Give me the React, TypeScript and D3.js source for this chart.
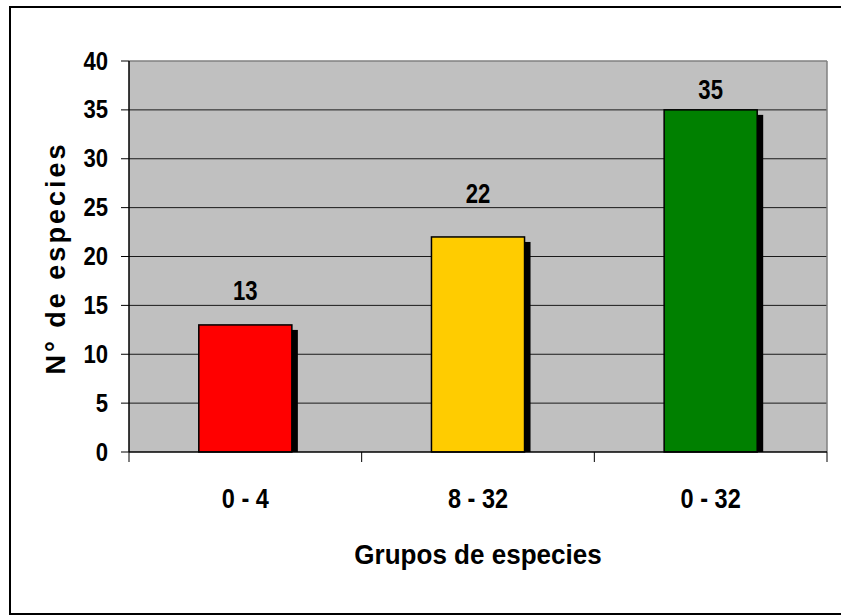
import React from "react";
import * as d3 from "d3";

// Species counts per size group
const categories = ["0 - 4", "8 - 32", "0 - 32"];
const speciesCount = [13, 22, 35];
const barColors = ["#FF0000", "#FFCC00", "#008000"];
const yTicks = [0, 5, 10, 15, 20, 25, 30, 35, 40];

const W = 841;
const H = 615;
const plot = { left: 129, right: 827, top: 61, bottom: 452 };

// distance from bar top to the baseline of each value label
const valueLabelGap = [25, 34, 11];

const ARIAL = "'Liberation Sans', Arial, Helvetica, sans-serif";

// bold text squeezed horizontally, like a narrow typeface
function NarrowText(props: {
  x: number;
  y: number;
  size: number;
  squeeze: number;
  children: React.ReactNode;
}) {
  const { x, y, size, squeeze, children } = props;
  return (
    <text
      transform={`translate(${x}, ${y}) scale(${squeeze}, 1)`}
      textAnchor="middle"
      fontFamily={ARIAL}
      fontWeight="bold"
      fontSize={size}
      fill="#000"
    >
      {children}
    </text>
  );
}

export default function App() {
  const x = d3
    .scaleBand<string>()
    .domain(categories)
    .range([plot.left, plot.right])
    .paddingInner(0.6)
    .paddingOuter(0.3);
  const y = d3.scaleLinear().domain([0, 40]).range([plot.bottom, plot.top]);

  const step = x.step();
  // category boundaries for the x-axis tick marks
  const boundaryX = d3.range(categories.length + 1).map((i) => plot.left + i * step);

  return (
    <div style={{ position: "fixed", left: 0, top: 0, width: W, height: H, background: "#fff" }}>
      <svg width={W} height={H} style={{ display: "block" }}>
        <rect x={0} y={0} width={W} height={H} fill="#fff" />
        {/* chart frame */}
        <rect x={10} y={7} width={W + 10} height={607} fill="none" stroke="#000" strokeWidth={2} />

        {/* plot area */}
        <rect
          x={plot.left}
          y={plot.top}
          width={plot.right - plot.left}
          height={plot.bottom - plot.top}
          fill="#C0C0C0"
        />
        {yTicks
          .filter((t) => t > 0 && t < 40)
          .map((t) => (
            <line
              key={"g" + t}
              x1={plot.left}
              x2={plot.right}
              y1={y(t)}
              y2={y(t)}
              stroke="#1a1a1a"
              strokeWidth={1}
            />
          ))}
        <line x1={plot.left} x2={plot.right} y1={plot.top} y2={plot.top} stroke="#808080" strokeWidth={1.5} />
        <line x1={plot.right} x2={plot.right} y1={plot.top} y2={plot.bottom} stroke="#808080" strokeWidth={1.5} />

        {/* bars with drop shadow */}
        {categories.map((c, i) => {
          const bx = x(c) as number;
          const bw = x.bandwidth();
          const top = y(speciesCount[i]);
          return (
            <g key={c}>
              <rect x={bx + 6} y={top + 5} width={bw} height={plot.bottom - top - 5} fill="#000" />
              <rect
                x={bx}
                y={top}
                width={bw}
                height={plot.bottom - top}
                fill={barColors[i]}
                stroke="#000"
                strokeWidth={1.5}
              />
              <NarrowText x={bx + bw / 2} y={top - valueLabelGap[i]} size={27} squeeze={0.82}>
                {speciesCount[i]}
              </NarrowText>
            </g>
          );
        })}

        {/* y axis */}
        <line x1={plot.left} x2={plot.left} y1={plot.top} y2={plot.bottom} stroke="#000" strokeWidth={1.5} />
        {yTicks.map((t) => (
          <g key={"t" + t}>
            <line x1={plot.left - 8} x2={plot.left} y1={y(t)} y2={y(t)} stroke="#000" strokeWidth={1} />
            <text
              transform={`translate(108, ${y(t) + 8.5}) scale(0.92, 1.04)`}
              textAnchor="end"
              fontFamily={ARIAL}
              fontWeight="bold"
              fontSize={24}
              fill="#000"
            >
              {t}
            </text>
          </g>
        ))}

        {/* x axis */}
        <line x1={plot.left} x2={plot.right} y1={plot.bottom} y2={plot.bottom} stroke="#000" strokeWidth={1.5} />
        {boundaryX.map((bx, i) => (
          <line key={"b" + i} x1={bx} x2={bx} y1={plot.bottom} y2={plot.bottom + 10} stroke="#000" strokeWidth={1} />
        ))}
        {categories.map((c) => (
          <NarrowText key={"l" + c} x={(x(c) as number) + x.bandwidth() / 2} y={508} size={28} squeeze={0.84}>
            {c}
          </NarrowText>
        ))}

        {/* axis titles */}
        <NarrowText x={478} y={564} size={28} squeeze={0.93}>
          Grupos de especies
        </NarrowText>
        <text
          transform={`translate(65, ${(plot.top + plot.bottom) / 2 + 1.5}) rotate(-90)`}
          textAnchor="middle"
          fontFamily={ARIAL}
          fontWeight="bold"
          fontSize={27}
          letterSpacing={3}
          fill="#000"
        >
          N° de especies
        </text>
      </svg>
    </div>
  );
}
